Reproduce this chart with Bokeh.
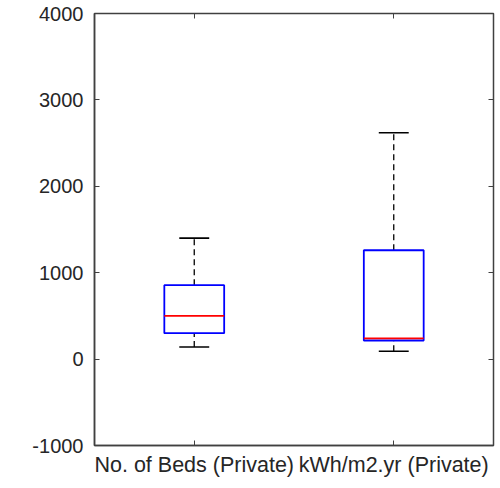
from bokeh.plotting import figure
from bokeh.models import LinearAxis, Range1d, FixedTicker, ColumnDataSource
from bokeh.embed import file_html
from bokeh.resources import INLINE

categories = ["No. of Beds (Private)", "kWh/m2.yr (Private)"]
positions = [1, 2]
q1 = [300, 215]
q3 = [856, 1260]
median = [500, 240]
lower = [140, 90]
upper = [1400, 2620]
y_ticks = [-1000, 0, 1000, 2000, 3000, 4000]
y_labels = ["-1000", "0", "1000", "2000", "3000", "4000"]

src = ColumnDataSource(dict(x=positions, q1=q1, q3=q3, med=median, lo=lower, hi=upper,
                            x0=[p - 0.075 for p in positions], x1=[p + 0.075 for p in positions],
                            bx0=[p - 0.15 for p in positions], bx1=[p + 0.15 for p in positions]))

p = figure(width=497, height=480, output_backend="svg", toolbar_location=None,
           x_range=Range1d(0.5, 2.5), y_range=Range1d(-1000, 4000),
           min_border_left=94, min_border_right=4, min_border_top=13, min_border_bottom=35)
p.grid.visible = False
p.outline_line_color = "#404040"
p.outline_line_width = 1.5
p.background_fill_color = "white"

# whiskers
p.segment(x0="x", y0="q3", x1="x", y1="hi", source=src, line_color="black", line_width=1.3, line_dash="6 4")
p.segment(x0="x", y0="lo", x1="x", y1="q1", source=src, line_color="black", line_width=1.3, line_dash="6 4")
# caps
p.segment(x0="x0", y0="hi", x1="x1", y1="hi", source=src, line_color="black", line_width=1.6)
p.segment(x0="x0", y0="lo", x1="x1", y1="lo", source=src, line_color="black", line_width=1.6)
# boxes
p.quad(left="bx0", right="bx1", bottom="q1", top="q3", source=src, fill_color=None,
       line_color="#0000ff", line_width=1.8)
# medians
p.segment(x0="bx0", y0="med", x1="bx1", y1="med", source=src, line_color="#ff0000", line_width=1.6)

font = "Liberation Sans"
for ax in [p.xaxis[0], p.yaxis[0]]:
    ax.major_label_text_font = font
    ax.major_label_text_color = "#262626"
    ax.axis_line_color = "#404040"
    ax.axis_line_width = 1.5
    ax.major_tick_line_color = "#404040"
    ax.major_tick_in = 5
    ax.major_tick_out = 0
    ax.minor_tick_line_color = None

p.yaxis[0].major_label_text_font_size = "20px"
p.yaxis[0].major_label_standoff = 11
p.xaxis[0].major_label_text_font_size = "21.5px"
p.xaxis[0].major_label_standoff = 7

p.yaxis[0].ticker = FixedTicker(ticks=y_ticks)
p.yaxis[0].major_label_overrides = {t: l for t, l in zip(y_ticks, y_labels)}
p.xaxis[0].ticker = FixedTicker(ticks=positions)
p.xaxis[0].major_label_overrides = {pos: c for pos, c in zip(positions, categories)}

r = LinearAxis(ticker=FixedTicker(ticks=y_ticks), major_label_overrides={t: "" for t in y_ticks},
               axis_line_color=None, major_tick_in=5, major_tick_out=0,
               major_tick_line_color="#404040", minor_tick_line_color=None)
p.add_layout(r, "right")
t = LinearAxis(ticker=FixedTicker(ticks=positions), major_label_overrides={pp: "" for pp in positions},
               axis_line_color=None, major_tick_in=5, major_tick_out=0,
               major_tick_line_color="#404040", minor_tick_line_color=None)
p.add_layout(t, "above")

open("out.html", "w").write(file_html(p, INLINE))
